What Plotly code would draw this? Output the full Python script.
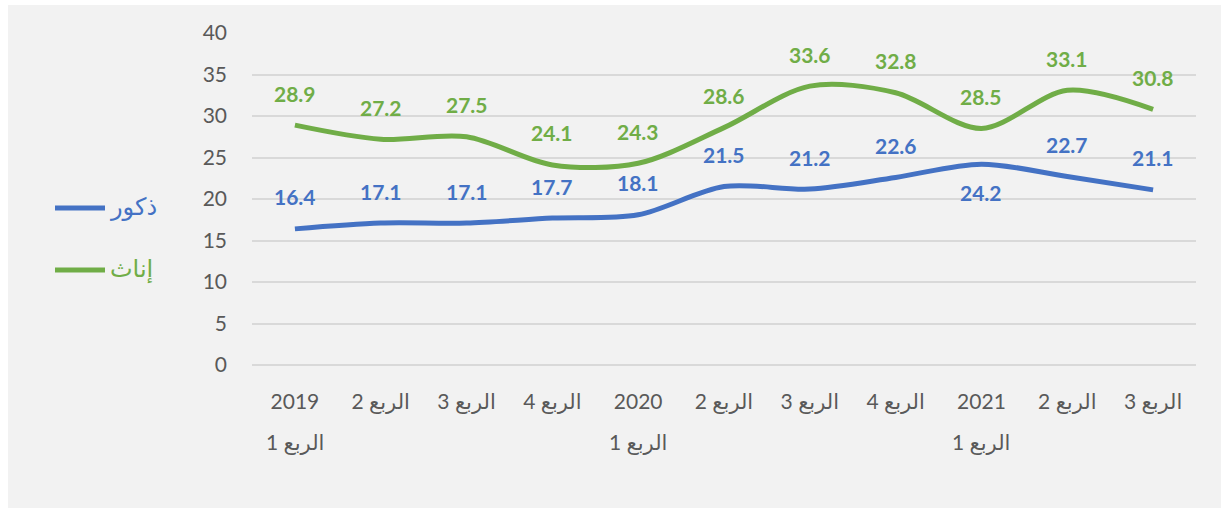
import plotly.graph_objects as go

# ---- data ----
tick_line1 = ["2019", "الربع 2", "الربع 3", "الربع 4", "2020", "الربع 2", "الربع 3",
              "الربع 4", "2021", "الربع 2", "الربع 3"]
tick_line2 = ["الربع 1", "", "", "", "الربع 1", "", "", "", "الربع 1", "", ""]
male = [16.4, 17.1, 17.1, 17.7, 18.1, 21.5, 21.2, 22.6, 24.2, 22.7, 21.1]
female = [28.9, 27.2, 27.5, 24.1, 24.3, 28.6, 33.6, 32.8, 28.5, 33.1, 30.8]
male_name = "ذكور"
female_name = "إناث"
male_label_side = [1, 1, 1, 1, 1, 1, 1, 1, -1, 1, 1]
female_label_side = [1] * 11

BLUE = "#4472C4"
GREEN = "#70AD47"
TXT = "#595959"
BG = "#F2F2F2"
W, H = 1221, 508
L, R, T, B = 252, 25, 33, 143
PW, PH = W - L - R, H - T - B
FONT = "Lato, DejaVu Sans, sans-serif"


def px2x(px):
    return (px - L) / PW


def py2y(py):
    return (H - B - py) / PH


xs = list(range(len(tick_line1)))

fig = go.Figure()
fig.add_trace(go.Scatter(x=xs, y=male, mode="lines", name=male_name,
                         line=dict(color=BLUE, width=5, shape="spline", smoothing=0.9),
                         showlegend=False))
fig.add_trace(go.Scatter(x=xs, y=female, mode="lines", name=female_name,
                         line=dict(color=GREEN, width=5, shape="spline", smoothing=0.9),
                         showlegend=False))

ann = []
for vals, sides, col in [(male, male_label_side, BLUE), (female, female_label_side, GREEN)]:
    for i, (v, s) in enumerate(zip(vals, sides)):
        ann.append(dict(x=i, y=v, xref="x", yref="y", text=f"{v}", showarrow=False,
                        yshift=32 if s > 0 else -28,
                        font=dict(family=FONT, size=21, color=col, weight="bold")))

# second line of x tick labels
for i, t in enumerate(tick_line2):
    if t:
        ann.append(dict(x=i, y=py2y(442), xref="x", yref="paper", text=t, showarrow=False,
                        yanchor="middle",
                        font=dict(family=FONT, size=21, color=TXT)))

# custom legend
shapes = []
for py, col, name in [(208, BLUE, male_name), (270, GREEN, female_name)]:
    shapes.append(dict(type="line", xref="paper", yref="paper",
                       x0=px2x(55), x1=px2x(105), y0=py2y(py), y1=py2y(py),
                       line=dict(color=col, width=5)))
    ann.append(dict(x=px2x(108), y=py2y(py - 2), xref="paper", yref="paper", text=name,
                    showarrow=False, xanchor="left", yanchor="middle",
                    font=dict(family=FONT, size=24, color=col)))

# white outer strips (top and left)
shapes.append(dict(type="rect", xref="paper", yref="paper", x0=px2x(0), x1=px2x(W),
                   y0=py2y(5), y1=py2y(0), fillcolor="white", line=dict(width=0), layer="below"))
shapes.append(dict(type="rect", xref="paper", yref="paper", x0=px2x(0), x1=px2x(8),
                   y0=py2y(H), y1=py2y(0), fillcolor="white", line=dict(width=0), layer="below"))

fig.update_layout(
    width=W, height=H,
    margin=dict(l=L, r=R, t=T, b=B),
    paper_bgcolor=BG, plot_bgcolor=BG,
    annotations=ann, shapes=shapes,
    showlegend=False,
    xaxis=dict(range=[-0.5, len(xs) - 0.5], tickvals=xs, ticktext=tick_line1,
               showgrid=False, zeroline=False, showline=False, ticks="",
               tickfont=dict(family=FONT, size=21, color=TXT), ticklabelstandoff=22),
    yaxis=dict(range=[0, 40], dtick=5, showgrid=True, gridcolor="#D9D9D9", gridwidth=1.5,
               zeroline=True, zerolinecolor="#D9D9D9", zerolinewidth=1.5, showline=False,
               tickfont=dict(family=FONT, size=21, color=TXT), ticklabelstandoff=24),
)

fig.write_html("out.html", config={"displayModeBar": False},
               post_script="document.body.style.margin='0';document.body.style.overflow='hidden';")
